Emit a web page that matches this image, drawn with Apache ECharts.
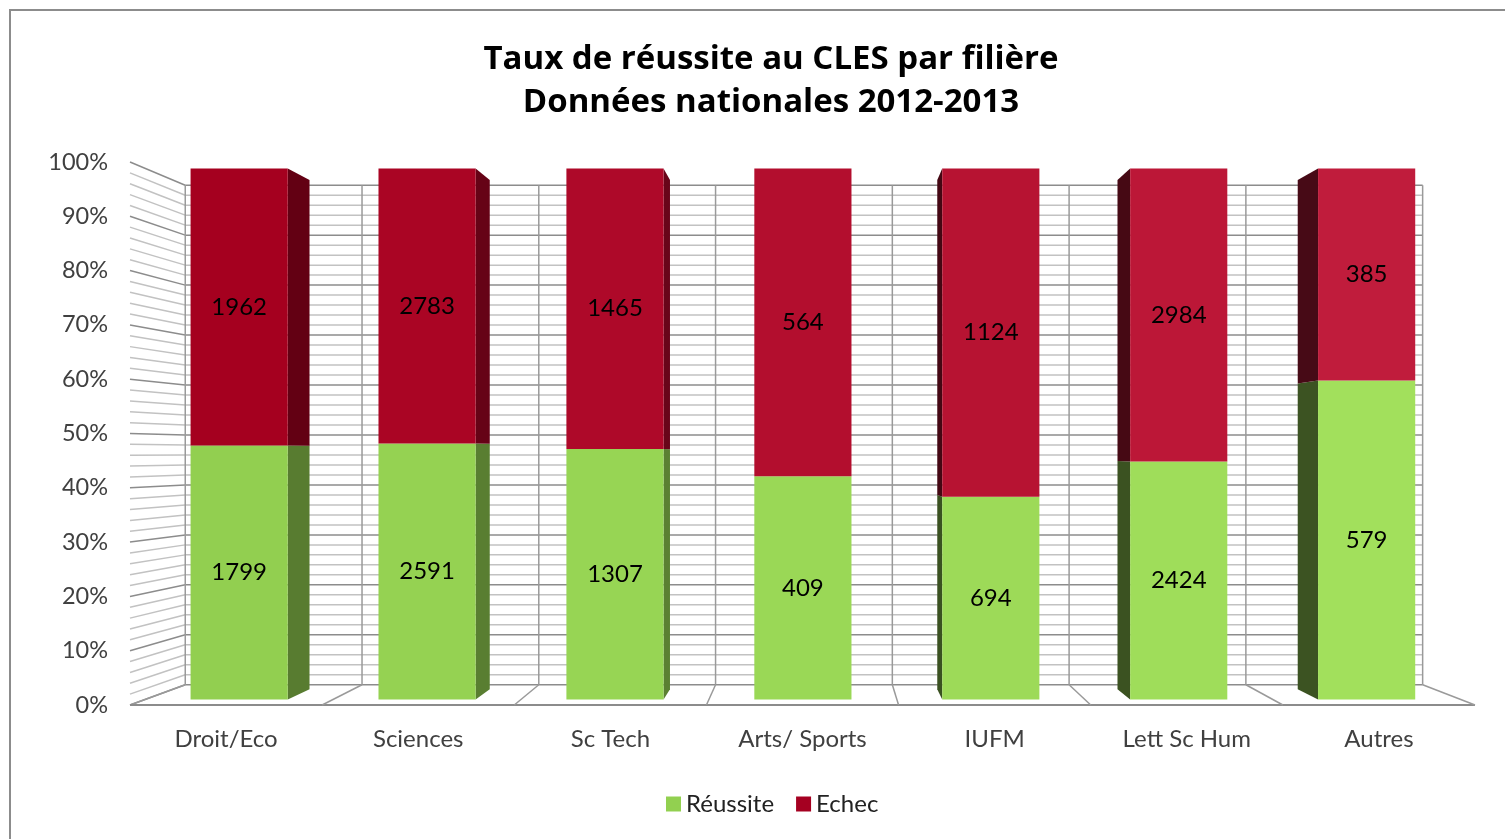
<!DOCTYPE html>
<html>
<head>
<meta charset="utf-8">
<script src="https://cdn.jsdelivr.net/npm/echarts@6/dist/echarts.min.js"></script>
<style>
  html, body { margin: 0; padding: 0; background: #fff; overflow: hidden; }
  #chart { position: absolute; left: 0; top: 0; width: 1505px; height: 839px; }
  #frame { position: absolute; left: 9px; top: 9px; width: 1520px; height: 860px;
           border: 2px solid #8c8c8c; pointer-events: none; }
</style>
</head>
<body>
<div id="chart"></div>
<div id="frame"></div>
<script>
// ---- data ----
const categories = ['Droit/Eco', 'Sciences', 'Sc Tech', 'Arts/ Sports', 'IUFM', 'Lett Sc Hum', 'Autres'];
const reussite = [1799, 2591, 1307, 409, 694, 2424, 579];
const echec = [1962, 2783, 1465, 564, 1124, 2984, 385];
const yTickLabels = ['0%', '10%', '20%', '30%', '40%', '50%', '60%', '70%', '80%', '90%', '100%'];
const gridSteps = [0, 2, 4, 6, 8, 10, 12, 14, 16, 18, 20, 22, 24, 26, 28, 30, 32, 34, 36, 38, 40, 42, 44, 46, 48, 50,
  52, 54, 56, 58, 60, 62, 64, 66, 68, 70, 72, 74, 76, 78, 80, 82, 84, 86, 88, 90, 92, 94, 96, 98, 100];

// ---- perspective settings ----
const SW = 0.92;   // back wall depth scale
const SF = 0.978;  // bar front depth scale
const SB = 0.938;  // bar back depth scale
const BAR_FRAC = 0.517;
const VP_CAT_OFFSET = 0.094; // vanishing point: band fraction right of category 3
const VP_PCT = 46.6;
const FONT = 'Lato, "Open Sans", sans-serif';

function vpOf(api) {
  const band = api.size([1, 0])[0];
  const c = api.coord([3, VP_PCT]);
  return [c[0] + VP_CAT_OFFSET * band, c[1]];
}
function proj(p, s, vp) { return [vp[0] + s * (p[0] - vp[0]), vp[1] + s * (p[1] - vp[1])]; }
function hex(c) { return [parseInt(c.substr(1, 2), 16), parseInt(c.substr(3, 2), 16), parseInt(c.substr(5, 2), 16)]; }
function mix(c1, c2, t) {
  const a = hex(c1), b = hex(c2);
  return 'rgb(' + a.map((v, k) => Math.round(v + (b[k] - v) * t)).join(',') + ')';
}
function darken(c, f) {
  const m = c.match(/\d+/g).map(Number);
  return 'rgb(' + m.map(v => Math.round(v * f)).join(',') + ')';
}
const FRONT = [['#92cf50', '#a2e05c'], ['#a5001f', '#c01c3c']];

function barData(k) {
  return categories.map((_, i) => {
    const tot = reussite[i] + echec[i];
    const p = reussite[i] / tot * 100;
    return k === 0 ? [i, 0, p, reussite[i]] : [i, p, 100, echec[i]];
  });
}

function renderBar(k) {
  return function (params, api) {
    const i = api.value(0), a = api.value(1), b = api.value(2), n = api.value(3);
    const vp = vpOf(api);
    const band = api.size([1, 0])[0];
    const hw = band * BAR_FRAC / 2;
    const pb = api.coord([i, a]), pt = api.coord([i, b]);
    const xl = pb[0] - hw, xr = pb[0] + hw, yb = pb[1], yt = pt[1];
    const t = i / (categories.length - 1);
    const col = mix(FRONT[k][0], FRONT[k][1], t);
    const front = [proj([xl, yt], SF, vp), proj([xr, yt], SF, vp), proj([xr, yb], SF, vp), proj([xl, yb], SF, vp)];
    const children = [];
    if (front[1][0] < vp[0]) {
      children.push({ type: 'polygon', shape: { points: [front[1], proj([xr, yt], SB, vp), proj([xr, yb], SB, vp), front[2]] },
        style: { fill: darken(col, 0.6) } });
    } else if (front[0][0] > vp[0]) {
      children.push({ type: 'polygon', shape: { points: [front[0], proj([xl, yt], SB, vp), proj([xl, yb], SB, vp), front[3]] },
        style: { fill: darken(col, 0.37) } });
    }
    children.push({ type: 'polygon', shape: { points: front }, style: { fill: col } });
    const cx = (front[0][0] + front[1][0]) / 2, cy = (front[0][1] + front[3][1]) / 2;
    children.push({ type: 'text', style: { text: String(n), x: cx, y: cy, align: 'center', verticalAlign: 'middle',
      fontSize: 24, fontFamily: FONT, fill: '#000' } });
    return { type: 'group', children: children };
  };
}

const chart = echarts.init(document.getElementById('chart'));
chart.setOption({
  animation: false,
  title: {
    text: 'Taux de réussite au CLES par filière\nDonnées nationales 2012-2013',
    left: 766, top: 33, textAlign: 'center',
    textStyle: { fontFamily: '"Comic Sans MS", "Open Sans", sans-serif', fontWeight: 'bold', fontSize: 33, lineHeight: 43, color: '#000' }
  },
  legend: {
    data: ['Réussite', 'Echec'], left: 661, top: 787, icon: 'rect', itemWidth: 15, itemHeight: 15, itemGap: 22, itemTextGap: 6,
    textStyle: { fontFamily: FONT, fontSize: 24, color: '#222' }
  },
  grid: { left: 130, right: 30, top: 162, bottom: 134 },
  xAxis: {
    type: 'category', data: categories,
    axisLine: { show: false }, axisTick: { show: false }, splitLine: { show: false },
    axisLabel: { margin: 22, fontFamily: FONT, fontSize: 24, color: '#404040' }
  },
  yAxis: {
    type: 'value', min: 0, max: 100, interval: 10,
    axisLine: { show: false }, axisTick: { show: false }, splitLine: { show: false },
    axisLabel: { margin: 22, fontFamily: FONT, fontSize: 23.5, color: '#404040',
      formatter: v => yTickLabels[Math.round(v / 10)] }
  },
  series: [
    {
      type: 'custom', silent: true, z: 1,
      data: gridSteps.map(v => [0, v]),
      renderItem: function (params, api) {
        const v = api.value(1);
        const vp = vpOf(api);
        const band = api.size([1, 0])[0];
        const y = api.coord([0, v])[1];
        const left = api.coord([0, v])[0] - band / 2;
        const right = api.coord([categories.length - 1, v])[0] + band / 2;
        const major = v % 10 === 0;
        const style = { stroke: major ? '#8c8c8c' : '#c2c2c2', lineWidth: 1.5, fill: null };
        const a = proj([left, y], SW, vp), b = proj([right, y], SW, vp);
        return { type: 'group', children: [
          { type: 'line', shape: { x1: a[0], y1: a[1], x2: b[0], y2: b[1] }, style: style },
          { type: 'line', shape: { x1: left, y1: y, x2: a[0], y2: a[1] }, style: style }
        ] };
      }
    },
    {
      type: 'custom', silent: true, z: 1,
      data: categories.map((_, i) => [i, -1]).concat([[categories.length - 1, 1]]),
      renderItem: function (params, api) {
        const c = api.value(0), side = api.value(1);
        const vp = vpOf(api);
        const band = api.size([1, 0])[0];
        const p0 = api.coord([c, 0]), p1 = api.coord([c, 100]);
        const x = p0[0] + side * band / 2;
        const a = proj([x, p0[1]], SW, vp), b = proj([x, p1[1]], SW, vp);
        const style = { stroke: '#9a9a9a', lineWidth: 1.5, fill: null };
        const children = [
          { type: 'line', shape: { x1: a[0], y1: a[1], x2: b[0], y2: b[1] }, style: style },
          { type: 'line', shape: { x1: x, y1: p0[1], x2: a[0], y2: a[1] }, style: style }
        ];
        if (params.dataIndex === 0) {
          const xr = api.coord([categories.length - 1, 0])[0] + band / 2;
          children.push({ type: 'line', shape: { x1: x, y1: p0[1], x2: xr, y2: p0[1] },
            style: { stroke: '#8c8c8c', lineWidth: 2, fill: null } });
        }
        return { type: 'group', children: children };
      }
    },
    { name: 'Réussite', type: 'custom', z: 3, itemStyle: { color: '#92d050' }, data: barData(0), renderItem: renderBar(0) },
    { name: 'Echec', type: 'custom', z: 3, itemStyle: { color: '#a50021' }, data: barData(1), renderItem: renderBar(1) }
  ]
});
</script>
</body>
</html>
